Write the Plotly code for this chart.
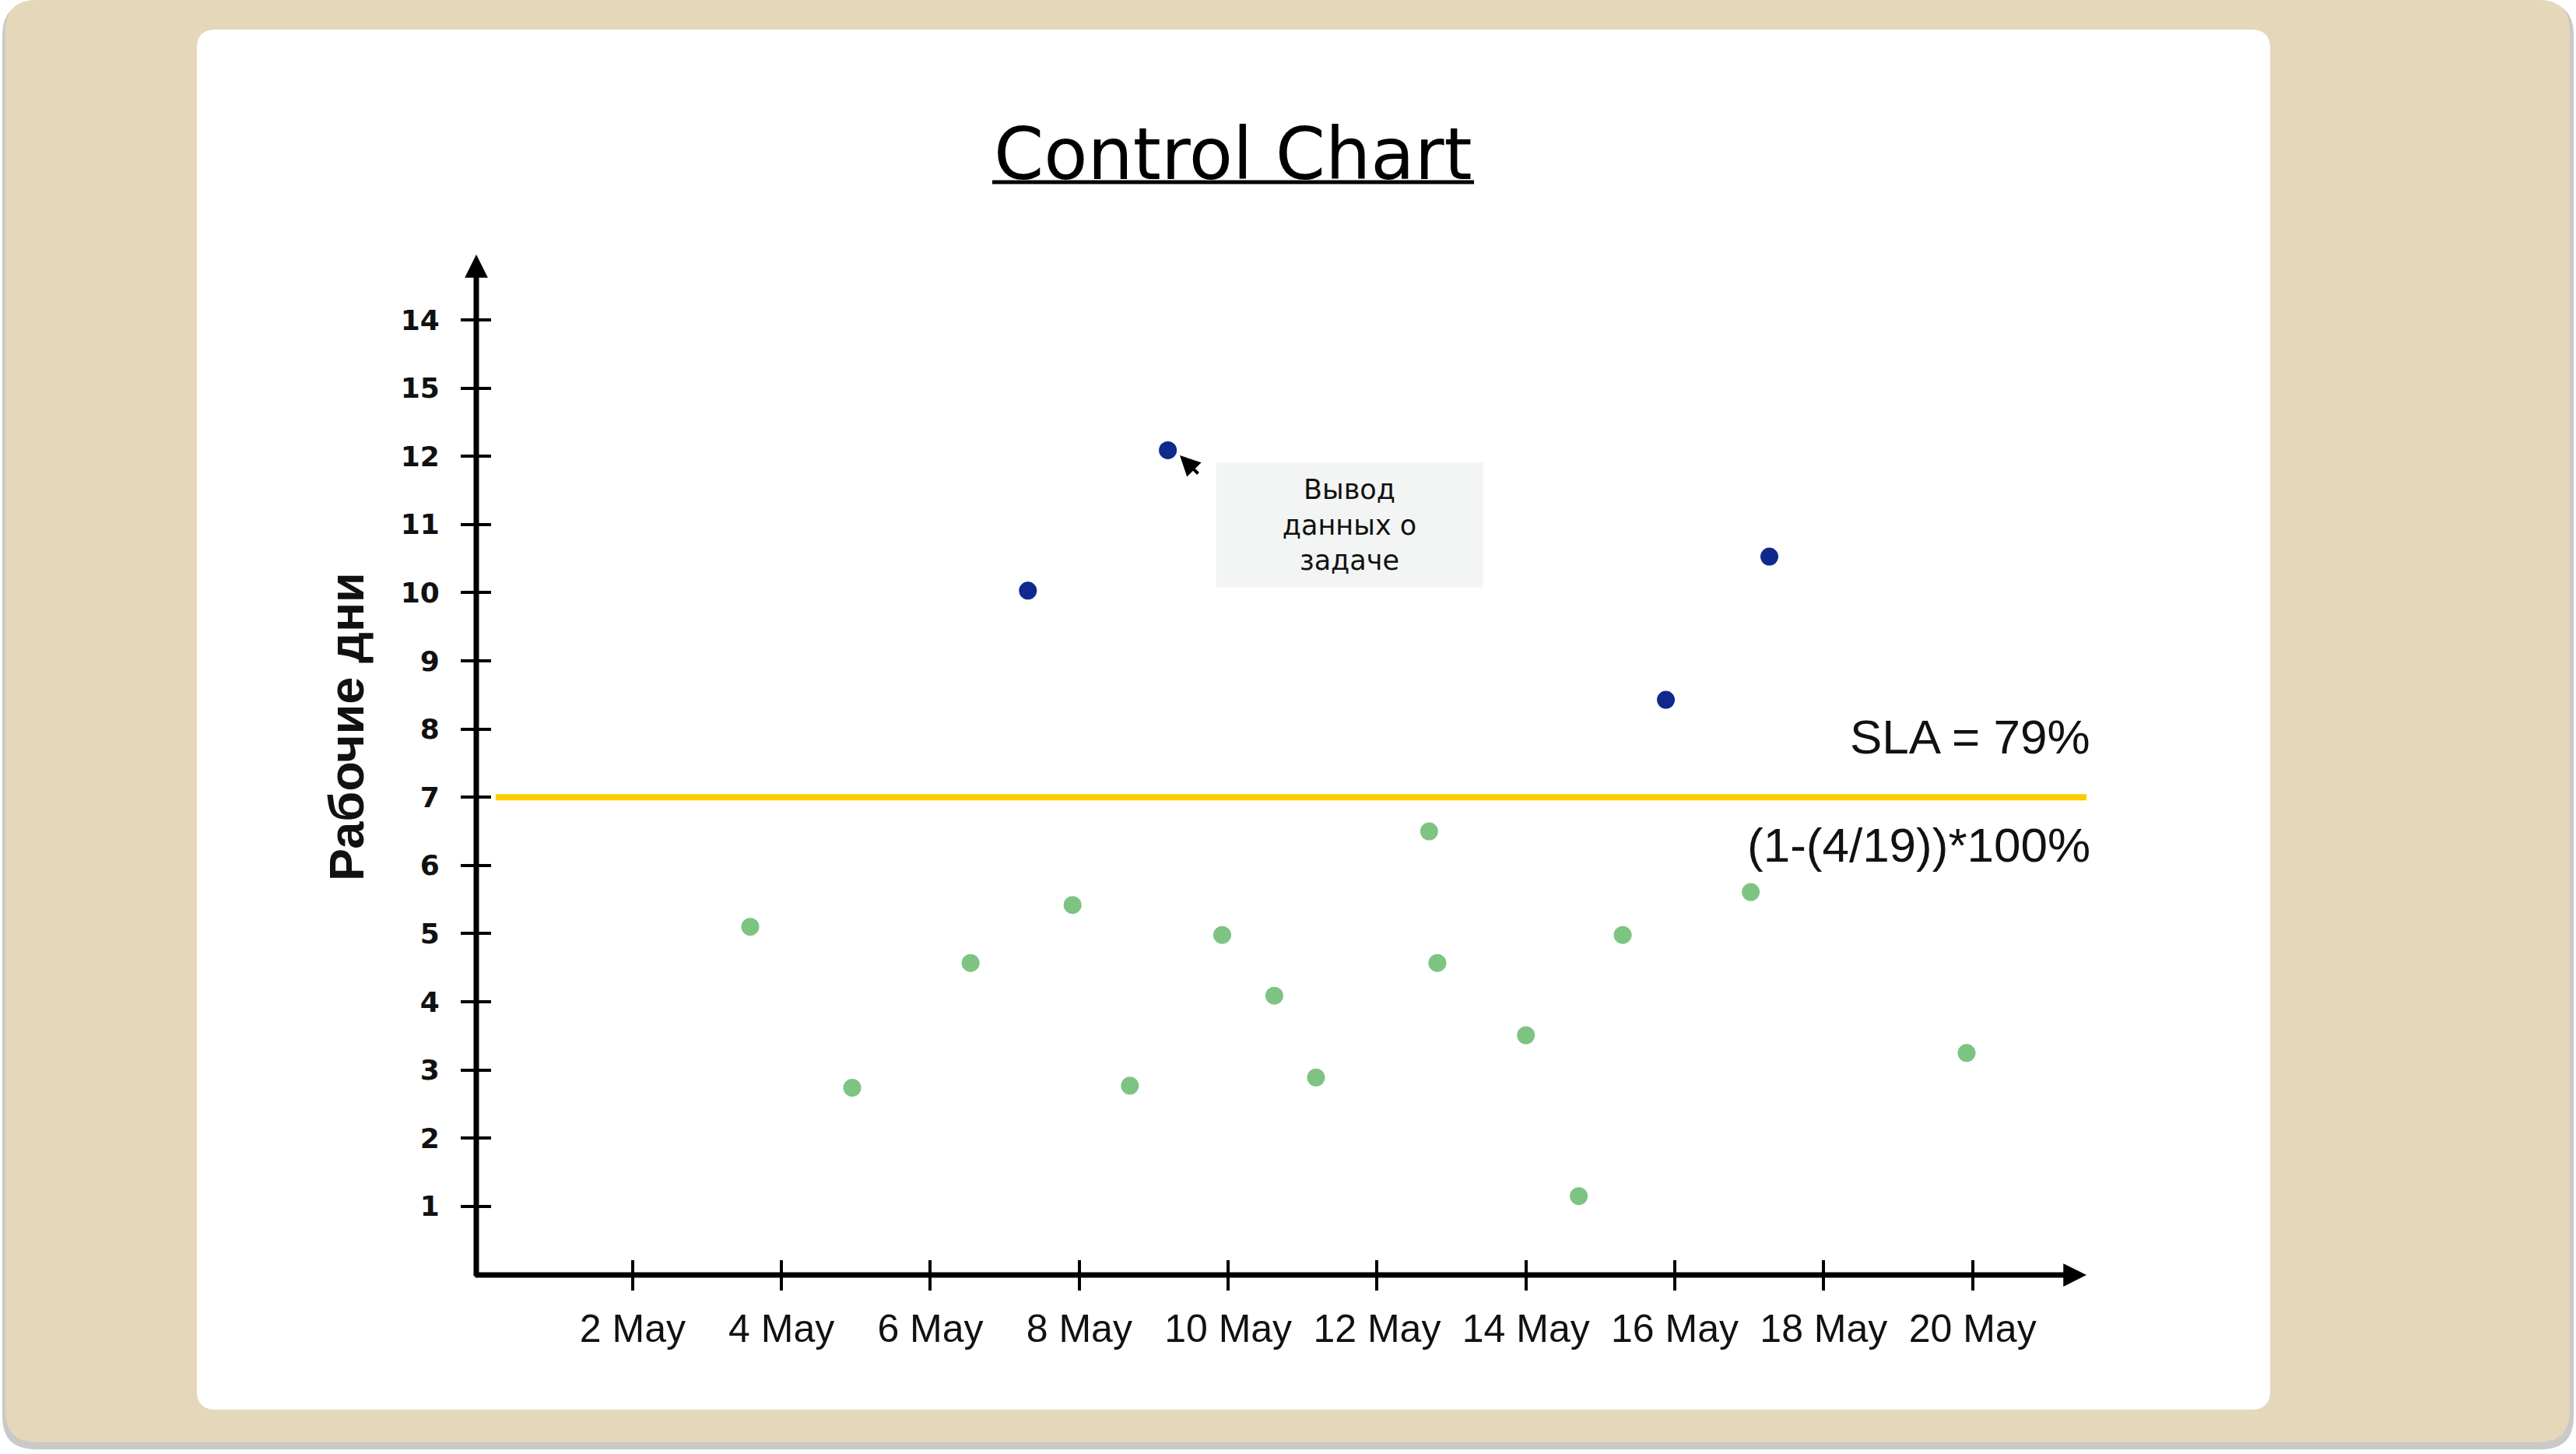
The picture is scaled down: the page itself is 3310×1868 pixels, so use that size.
import plotly.graph_objects as go

# ---------------- data ----------------
green_days = [3.58, 4.95, 6.54, 7.91, 8.68, 9.92, 10.62, 11.18, 12.70, 12.81, 14.00, 14.71, 15.30, 17.02, 19.92]
green_values = [5.10, 2.74, 4.57, 5.42, 2.77, 4.98, 4.09, 2.89, 6.50, 4.57, 3.51, 1.15, 4.98, 5.61, 3.25]
blue_days = [7.31, 9.19, 15.88, 17.27]
blue_values = [10.03, 12.09, 8.43, 10.53]

x_tick_vals = [2, 4, 6, 8, 10, 12, 14, 16, 18, 20]
x_tick_text = ["2 May", "4 May", "6 May", "8 May", "10 May", "12 May", "14 May", "16 May", "18 May", "20 May"]
y_tick_vals = [1, 2, 3, 4, 5, 6, 7, 8, 9, 10, 11, 12, 13, 14]
y_tick_text = ["1", "2", "3", "4", "5", "6", "7", "8", "9", "10", "11", "12", "15", "14"]
sla_threshold = 7

title_text = "Control Chart"
y_title = "Рабочие дни"
tooltip_text = "Вывод<br>данных о<br>задаче"

late = len(blue_values)
total = len(blue_values) + len(green_values)
sla_pct = round((1 - late / total) * 100)

# ---------------- layout helpers ----------------
W, H = 3310, 1868


def px(x):
    return x / W


def py(y):
    return 1 - y / H


def rrect(x0, y0, x1, y1, r):
    pts = [
        ("M", x0 + r, y0), ("L", x1 - r, y0), ("Q", x1, y0, x1, y0 + r),
        ("L", x1, y1 - r), ("Q", x1, y1, x1 - r, y1), ("L", x0 + r, y1),
        ("Q", x0, y1, x0, y1 - r), ("L", x0, y0 + r), ("Q", x0, y0, x0 + r, y0),
    ]
    out = []
    for p in pts:
        cmd = p[0]
        coords = p[1:]
        s = cmd
        for i in range(0, len(coords), 2):
            s += f" {px(coords[i]):.5f},{py(coords[i+1]):.5f}"
        out.append(s)
    return " ".join(out) + " Z"


AX_LEFT, AX_RIGHT = 612, 2681
AX_BOTTOM, AX_TOP = 1638, 327

fig = go.Figure()

fig.add_trace(go.Scatter(x=green_days, y=green_values, mode="markers",
                         marker=dict(color="#7DC482", size=23), showlegend=False,
                         hoverinfo="skip"))
fig.add_trace(go.Scatter(x=blue_days, y=blue_values, mode="markers",
                         marker=dict(color="#0F2A8C", size=23), showlegend=False,
                         hoverinfo="skip"))
# empty traces to activate overlay axes (used for crossing ticks)
fig.add_trace(go.Scatter(x=[], y=[], xaxis="x2", yaxis="y", showlegend=False))
fig.add_trace(go.Scatter(x=[], y=[], xaxis="x", yaxis="y2", showlegend=False))

x_range = [-0.10, 21.53]
y_range = [-0.006, 14.96]
x_dom = [px(AX_LEFT), px(AX_RIGHT)]
y_dom = [py(AX_BOTTOM), py(AX_TOP)]

tick_common = dict(showgrid=False, zeroline=False, showline=False,
                   ticklen=19, tickwidth=4, tickcolor="black")

fig.update_layout(
    width=W, height=H,
    margin=dict(l=0, r=0, t=0, b=0),
    paper_bgcolor="white", plot_bgcolor="rgba(0,0,0,0)",
    xaxis=dict(domain=x_dom, range=x_range, anchor="y", ticks="outside",
               tickmode="array", tickvals=x_tick_vals, ticktext=x_tick_text,
               tickfont=dict(family="Liberation Sans", size=50, color="#111111"),
               ticklabelstandoff=6, **tick_common),
    xaxis2=dict(range=x_range, overlaying="x", anchor="y", side="bottom", ticks="inside",
                tickmode="array", tickvals=x_tick_vals, showticklabels=False, **tick_common),
    yaxis=dict(domain=y_dom, range=y_range, anchor="x", ticks="outside",
               tickmode="array", tickvals=y_tick_vals, ticktext=y_tick_text,
               tickfont=dict(family="DejaVu Sans", size=36, color="#111111", weight="bold"),
               ticklabelstandoff=20, **tick_common),
    yaxis2=dict(range=y_range, overlaying="y", anchor="x", side="left", ticks="inside",
                tickmode="array", tickvals=y_tick_vals, showticklabels=False, **tick_common),
)

shapes = [
    dict(type="path", xref="paper", yref="paper", path=rrect(3, 3, 3307, 1862, 42),
         fillcolor="#C9C9C9", line=dict(width=0), layer="below"),
    dict(type="path", xref="paper", yref="paper", path=rrect(7, 0, 3302, 1853, 40),
         fillcolor="#E5D7BA", line=dict(width=0), layer="below"),
    dict(type="path", xref="paper", yref="paper", path=rrect(253, 38, 2917, 1811, 24),
         fillcolor="white", line=dict(width=0), layer="below"),
    dict(type="line", xref="paper", yref="paper", x0=px(1275), x1=px(1894), y0=py(234), y1=py(234),
         line=dict(color="black", width=5)),
    dict(type="line", xref="x domain", yref="y", x0=0.012, x1=1.0, y0=sla_threshold, y1=sla_threshold,
         line=dict(color="#FFCC00", width=8), layer="below"),
]
fig.update_layout(shapes=shapes)

annotations = [
    # axes with arrowheads
    dict(xref="paper", yref="paper", x=px(AX_LEFT), y=py(AX_TOP), ax=0, ay=AX_BOTTOM + 3 - AX_TOP,
         text="", showarrow=True, arrowhead=2, arrowsize=0.85, arrowwidth=7, arrowcolor="black",
         standoff=0, startstandoff=0),
    dict(xref="paper", yref="paper", x=px(AX_RIGHT), y=py(AX_BOTTOM), ax=-(AX_RIGHT - AX_LEFT + 3), ay=0,
         text="", showarrow=True, arrowhead=2, arrowsize=0.85, arrowwidth=7, arrowcolor="black",
         standoff=0, startstandoff=0),
    # title
    dict(xref="paper", yref="paper", x=px(1584), y=py(198), text=title_text, showarrow=False,
         xanchor="center", yanchor="middle",
         font=dict(family="DejaVu Sans", size=92, color="black")),
    # y title
    dict(xref="paper", yref="paper", x=px(445), y=py(933), text=y_title, showarrow=False,
         textangle=-90, xanchor="center", yanchor="middle",
         font=dict(family="Liberation Sans", size=63, color="#111111", weight="bold")),
    # SLA texts
    dict(xref="paper", yref="paper", x=px(2688), y=py(946), text=f"SLA = {sla_pct}%", showarrow=False,
         xanchor="right", yanchor="middle",
         font=dict(family="Liberation Sans", size=62, color="#111111")),
    dict(xref="paper", yref="paper", x=px(2688), y=py(1085), text=f"(1-({late}/{total}))*100%",
         showarrow=False, xanchor="right", yanchor="middle",
         font=dict(family="Liberation Sans", size=62, color="#111111")),
    # tooltip box
    dict(xref="paper", yref="paper", x=px(1734), y=py(675), text=tooltip_text, showarrow=False,
         xanchor="center", yanchor="middle", align="center", width=340, height=157,
         bgcolor="#F3F4F4", font=dict(family="DejaVu Sans", size=35, color="#111111")),
    # cursor
    dict(xref="paper", yref="paper", x=px(1516), y=py(585), ax=25, ay=25, text="",
         showarrow=True, arrowhead=2, arrowsize=1.3, arrowwidth=4, arrowcolor="black",
         standoff=0),
]
fig.update_layout(annotations=annotations)

fig.write_html("out.html")
